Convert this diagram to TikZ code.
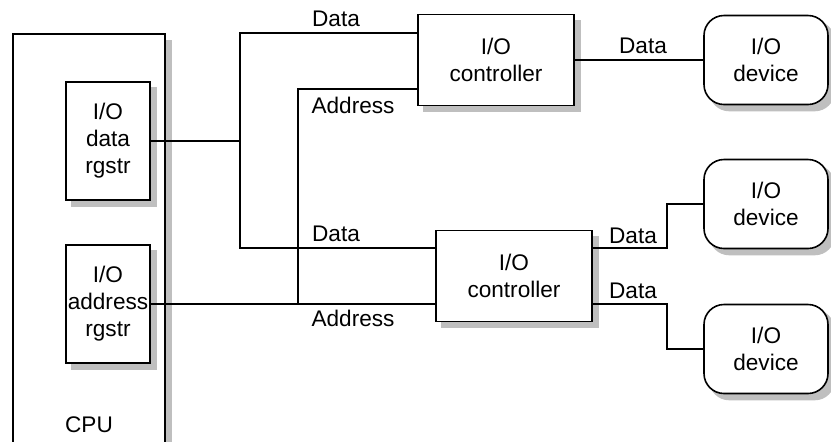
\documentclass[tikz,border=0pt]{standalone}
\usepackage{fontspec}
\setmainfont{Liberation Sans}
\usetikzlibrary{positioning,calc,backgrounds}

\begin{document}
\begin{tikzpicture}[
  x=0.5pt, y=-0.5pt,
  line width=0.8pt,
  box/.style={draw, fill=white, inner sep=1pt, align=center,
              font=\fontsize{11.3}{13.5}\selectfont},
  reg/.style={box, minimum width=42pt, minimum height=59pt},
  ctrl/.style={box, minimum width=78pt, minimum height=45.5pt},
  dev/.style={box, rounded corners=10pt, minimum width=62pt, minimum height=44.5pt},
  lbl/.style={inner sep=0pt, font=\fontsize{11.3}{13.5}\selectfont},
  shadowfill/.style={fill=black!25, draw=none},
]
  \useasboundingbox (0,0) rectangle (831,441);

  \node[box, fill=none, minimum width=76pt, minimum height=230pt, anchor=north west] (cpu) at (12,33) {};
  \node[lbl] (cpulbl) at (89,425) {CPU};

  \node[reg] (datareg) at (108,141) {I/O\\data\\rgstr};
  \node[reg] (addrreg) at (108,304) {I/O\\address\\rgstr};

  \node[ctrl] (ctrlA) at (496,60) {I/O\\controller};
  \node[ctrl] (ctrlB) at (514,276) {I/O\\controller};

  \node[dev] (devA) at (766,60) {I/O\\device};
  \node[dev] (devB) at (766,204) {I/O\\device};
  \node[dev] (devC) at (766,349) {I/O\\device};

  \begin{scope}[on background layer]
    \fill[shadowfill] ($(cpu.north east)+(0,7)$) rectangle ($(cpu.south east)+(6,0)$);
    \foreach \n in {datareg,addrreg,ctrlA,ctrlB}
      \fill[shadowfill] ($(\n.north west)+(6,6)$) rectangle ($(\n.south east)+(6,6)$);
    \foreach \n in {devA,devB,devC}
      \fill[shadowfill, rounded corners=10pt] ($(\n.north west)+(6,6)$) rectangle ($(\n.south east)+(6,6)$);
  \end{scope}

  \coordinate (dmid) at (240,141);
  \coordinate (dtop) at (240,33);
  \coordinate (dbot) at (240,248);
  \coordinate (atop) at (298,89);
  \coordinate (abot) at (298,304);

  \draw (datareg.east) -- (dmid);
  \draw (dtop -| ctrlA.west) -- (dtop) -- (dbot) -- (dbot -| ctrlB.west);
  \draw (addrreg.east) -- (addrreg.east -| ctrlB.west);
  \draw (abot) -- (atop) -- (atop -| ctrlA.west);

  \draw (ctrlA.east) -- (devA.west);
  \draw ($(ctrlB.east)+(0,-28)$) -- ++(74,0) |- (devB.west);
  \draw ($(ctrlB.east)+(0,28)$) -- ++(74,0) |- (devC.west);

  \node[lbl] (ldA) at (336,19) {Data};
  \node[lbl] (laA) at (353,105) {Address};
  \node[lbl] (ldB) at (336,234) {Data};
  \node[lbl] (laB) at (353,318) {Address};
  \node[lbl] (ldC) at (643,46) {Data};
  \node[lbl] (ldD) at (633,236) {Data};
  \node[lbl] (ldE) at (633,291) {Data};
\end{tikzpicture}
\end{document}
